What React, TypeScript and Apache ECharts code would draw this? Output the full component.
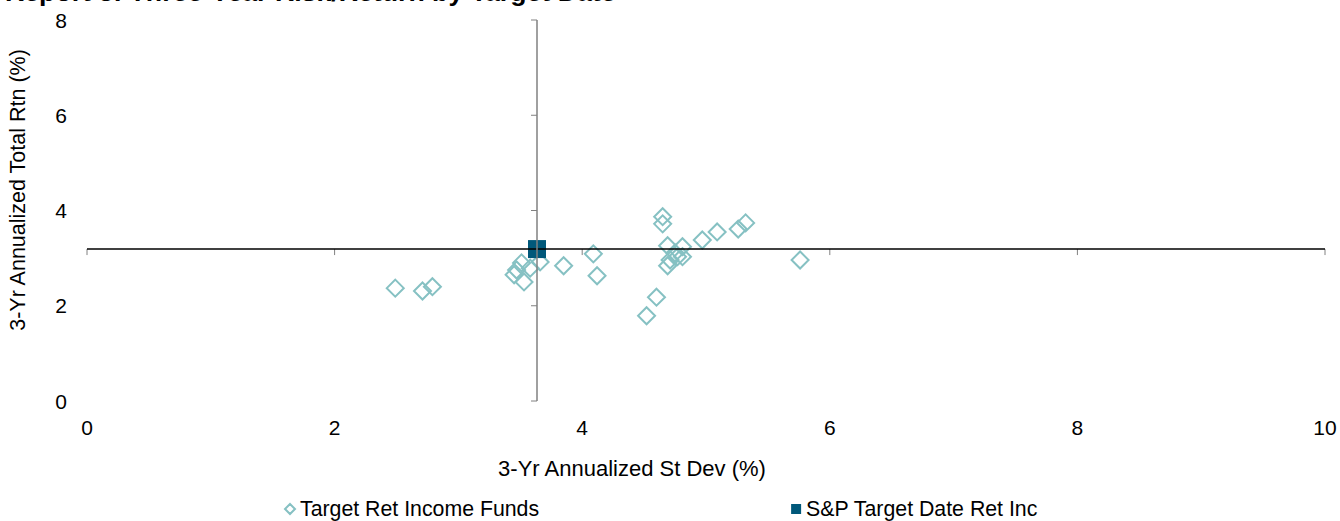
import React, { useEffect, useRef } from "react";
import * as echarts from "echarts";

const titleText = "Report 3: Three-Year Risk/Return by Target Date";
const xAxisTitle = "3-Yr Annualized St Dev (%)";
const yAxisTitle = "3-Yr Annualized Total Rtn (%)";
const fundsName = "Target Ret Income Funds";
const benchName = "S&P Target Date Ret Inc";

const fundsStdDev = [
  2.49, 2.71, 2.79, 3.51, 3.47, 3.45, 3.53, 3.58, 3.66, 3.85, 4.09, 4.12, 4.65, 4.65,
  4.69, 4.81, 4.75, 4.77, 4.71, 4.69, 4.81, 4.97, 5.09, 5.26, 5.32, 5.76, 4.6, 4.52,
];
const fundsReturn = [
  2.37, 2.31, 2.4, 2.9, 2.75, 2.65, 2.5, 2.79, 2.92, 2.84, 3.09, 2.63, 3.87, 3.72,
  3.26, 3.24, 3.11, 3.03, 2.96, 2.84, 3.03, 3.38, 3.55, 3.61, 3.74, 2.96, 2.18, 1.79,
];
const benchStdDev = 3.635;
const benchReturn = 3.19;

const xTicks = [0, 2, 4, 6, 8, 10];
const yTicks = [0, 2, 4, 6, 8];

export default function App() {
  const ref = useRef<HTMLDivElement>(null);
  useEffect(() => {
    document.body.style.margin = "0";
    const chart = echarts.init(ref.current!, null, { renderer: "svg" });
    const font = "'Liberation Sans', Arial, sans-serif";
    const option: any = {
      animation: false,
      textStyle: { fontFamily: font },
      grid: { left: 87, right: 15, top: 20, bottom: 120 },
      graphic: [
        {
          type: "text",
          left: 5,
          top: -22,
          style: {
            text: titleText,
            font: `bold 26.7px ${font}`,
            fill: "#000",
          },
        },
        {
          type: "text",
          x: 632,
          y: 468,
          style: {
            text: xAxisTitle,
            font: `22px ${font}`,
            fill: "#000",
            align: "center",
            verticalAlign: "middle",
          },
        },
        {
          type: "text",
          x: 18,
          y: 190,
          rotation: Math.PI / 2,
          style: {
            text: yAxisTitle,
            font: `21.5px ${font}`,
            fill: "#000",
            align: "center",
            verticalAlign: "middle",
          },
        },
      ],
      xAxis: {
        type: "value",
        min: 0,
        max: 10,
        interval: 2,
        axisLine: { show: false },
        axisTick: { show: false },
        splitLine: { show: false },
        axisLabel: { color: "#000", fontSize: 21, margin: 16, fontFamily: font },
      },
      yAxis: {
        type: "value",
        min: 0,
        max: 8,
        interval: 2,
        axisLine: { show: false },
        axisTick: { show: false },
        splitLine: { show: false },
        axisLabel: { color: "#000", fontSize: 21, margin: 20, fontFamily: font },
      },
      legend: {
        data: [fundsName, benchName],
        left: 284,
        top: 498,
        padding: 0,
        itemWidth: 10,
        itemHeight: 10,
        itemGap: 252,
        itemTextGap: 1,
        textStyle: { color: "#000", fontSize: 21.3, lineHeight: 22, fontFamily: font },
      },
      series: [
        {
          type: "custom",
          z: 1,
          silent: true,
          clip: false,
          data: xTicks.map((v) => [v, benchReturn]),
          renderItem: (params: any, api: any) => {
            const p = api.coord([api.value(0), api.value(1)]);
            return {
              type: "line",
              shape: { x1: p[0], y1: p[1], x2: p[0], y2: p[1] + 6 },
              style: { stroke: "#808080", lineWidth: 1 },
            };
          },
          markLine: {
            silent: true,
            symbol: "none",
            label: { show: false },
            data: [
              { yAxis: benchReturn, lineStyle: { color: "#000", width: 1.5, type: "solid" } },
              { xAxis: benchStdDev, lineStyle: { color: "#808080", width: 1.5, type: "solid" } },
            ],
          },
        },
        {
          type: "custom",
          z: 1,
          silent: true,
          clip: false,
          data: yTicks.map((v) => [benchStdDev, v]),
          renderItem: (params: any, api: any) => {
            const p = api.coord([api.value(0), api.value(1)]);
            return {
              type: "line",
              shape: { x1: p[0] - 6, y1: p[1], x2: p[0], y2: p[1] },
              style: { stroke: "#808080", lineWidth: 1 },
            };
          },
        },
        {
          name: fundsName,
          type: "scatter",
          z: 2,
          symbol: "diamond",
          symbolSize: 17,
          itemStyle: {
            color: "rgba(255,255,255,0)",
            borderColor: "#86C1C3",
            borderWidth: 2,
            opacity: 1,
          },
          data: fundsStdDev.map((x, i) => [x, fundsReturn[i]]),
        },
        {
          name: benchName,
          type: "scatter",
          z: 3,
          symbol: "rect",
          symbolSize: 18,
          itemStyle: { color: "#00587A", opacity: 1 },
          data: [[benchStdDev, benchReturn]],
        },
      ],
    };
    chart.setOption(option);
    return () => chart.dispose();
  }, []);
  return <div ref={ref} style={{ width: 1340, height: 521 }} />;
}
